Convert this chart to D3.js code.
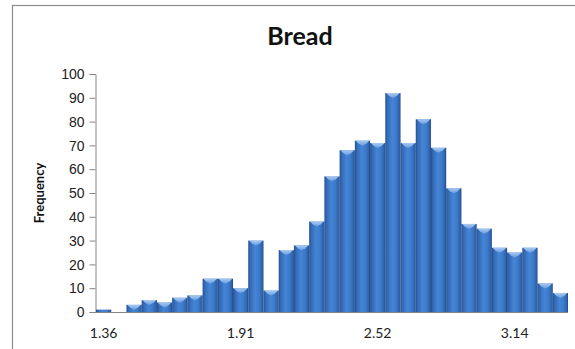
<!DOCTYPE html>
<html>
<head>
<meta charset="utf-8">
<script src="https://cdn.jsdelivr.net/npm/d3@7"></script>
<style>
  html, body { margin: 0; padding: 0; background: #ffffff; }
  svg { display: block; font-family: Lato, "Open Sans", sans-serif; }
</style>
</head>
<body>
<svg id="chart" width="575" height="349"></svg>
<script>
// Histogram of bread prices: one frequency per bin
const frequency = [1, 0, 3, 5, 4, 6, 7, 14, 14, 10, 30, 9, 26, 28, 38, 57, 68, 72, 71, 92, 71, 81, 69, 52, 37, 35, 27, 25, 27, 12, 8];
// Bin labels shown on the category axis (every ninth bin)
const tickLabels = ["1.36", "1.91", "2.52", "3.14"];
const tickBins = [0, 9, 18, 27];
const yTicks = [0, 10, 20, 30, 40, 50, 60, 70, 80, 90, 100];
const title = "Bread";
const yTitle = "Frequency";

const svg = d3.select("#chart");
const plot = { left: 96, right: 568, top: 74, bottom: 312 };

// Outer chart frame (runs off the right and bottom edges)
svg.append("rect")
  .attr("x", 12.5).attr("y", 5.5)
  .attr("width", 600).attr("height", 400)
  .attr("fill", "none").attr("stroke", "#8c8c8c").attr("stroke-width", 1.2);

const x = d3.scaleBand()
  .domain(frequency.map((_, i) => i))
  .range([plot.left, plot.right])
  .paddingInner(0).paddingOuter(0);

const y = d3.scaleLinear().domain([0, 100]).range([plot.bottom, plot.top]);

// Bar fill: rounded column look, darker at the edges
const defs = svg.append("defs");
const grad = defs.append("linearGradient").attr("id", "barGrad")
  .attr("x1", "0%").attr("x2", "100%").attr("y1", "0%").attr("y2", "0%");
[["0%", "#234f8c"], ["12%", "#3468b4"], ["45%", "#4485d6"], ["70%", "#3d7bcc"], ["92%", "#2f63ab"], ["100%", "#1f4680"]]
  .forEach(([o, c]) => grad.append("stop").attr("offset", o).attr("stop-color", c));

const bevel = defs.append("linearGradient").attr("id", "bevelGrad")
  .attr("x1", "0%").attr("x2", "0%").attr("y1", "0%").attr("y2", "100%");
[["0%", "#b4d2f6"], ["100%", "#6d9fe0"]]
  .forEach(([o, c]) => bevel.append("stop").attr("offset", o).attr("stop-color", c));

// Value axis
const yAxis = d3.axisLeft(y).tickValues(yTicks).tickSize(6).tickPadding(5);
const gy = svg.append("g").attr("transform", `translate(${plot.left - 0.5},0)`).call(yAxis);
gy.select(".domain").attr("stroke", "#868686");
gy.selectAll(".tick line").attr("stroke", "#868686");
gy.selectAll(".tick text").attr("fill", "#222").style("font-size", "14px").attr("dy", "0.34em");

const bars = svg.append("g").selectAll("g.bar")
  .data(frequency.map((v, i) => ({ v, i })))
  .join("g").attr("class", "bar");

bars.filter(d => d.v > 0).append("rect")
  .attr("x", d => x(d.i))
  .attr("y", d => y(d.v))
  .attr("width", x.bandwidth())
  .attr("height", d => y(0) - y(d.v))
  .attr("fill", "url(#barGrad)");

// Light bevel across each bar top
bars.filter(d => d.v > 1).append("path")
  .attr("d", d => {
    const x0 = x(d.i) + 0.8, x1 = x(d.i) + x.bandwidth() - 0.8, xc = (x0 + x1) / 2;
    const t = y(d.v);
    return `M${x0},${t} L${x1},${t} L${x1 - 3},${t + 3} L${xc},${t + 5} L${x0 + 3},${t + 3} Z`;
  })
  .attr("fill", "url(#bevelGrad)").attr("opacity", 0.9);

// Category axis baseline
svg.append("line")
  .attr("x1", plot.left - 1).attr("x2", plot.right)
  .attr("y1", plot.bottom + 0.5).attr("y2", plot.bottom + 0.5)
  .attr("stroke", "#868686");

svg.append("g").selectAll("text")
  .data(tickBins)
  .join("text")
  .attr("x", d => x(d) + x.bandwidth() / 2)
  .attr("y", 338)
  .attr("text-anchor", "middle")
  .attr("fill", "#222")
  .style("font-size", "14px")
  .text((d, i) => tickLabels[i]);

// Titles
svg.append("text")
  .attr("x", 300).attr("y", 45)
  .attr("text-anchor", "middle")
  .style("font-size", "25px").style("font-weight", "bold")
  .attr("fill", "#111")
  .text(title);

svg.append("text")
  .attr("transform", `translate(44,${(plot.top + plot.bottom) / 2}) rotate(-90)`)
  .attr("text-anchor", "middle")
  .style("font-size", "13px").style("font-weight", "bold")
  .attr("fill", "#111")
  .text(yTitle);
</script>
</body>
</html>
